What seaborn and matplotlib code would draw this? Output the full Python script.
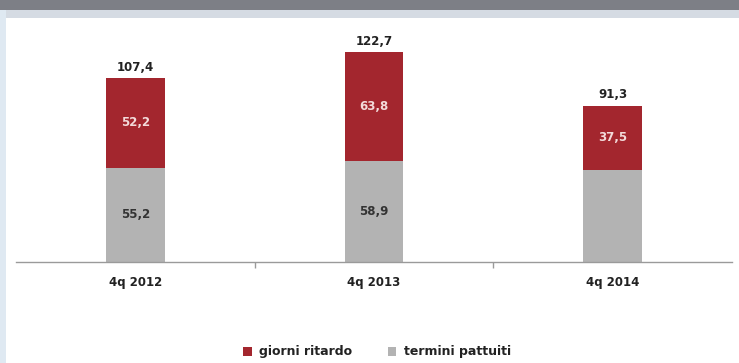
import matplotlib
matplotlib.use("Agg")
import matplotlib.pyplot as plt
import seaborn as sns
import pandas as pd
import numpy as np
from matplotlib.patches import Rectangle, Patch

categories = ["4q 2012", "4q 2013", "4q 2014"]
termini_pattuiti = [55.2, 58.9, 53.8]
giorni_ritardo = [52.2, 63.8, 37.5]
totals = [107.4, 122.7, 91.3]
termini_labels = ["55,2", "58,9", ""]
ritardo_labels = ["52,2", "63,8", "37,5"]
total_labels = ["107,4", "122,7", "91,3"]

RED = "#A3262E"
GRAY = "#B3B3B3"

sns.set_theme(style="white")
plt.rcParams["font.family"] = ["DejaVu Sans"]

fig = plt.figure(figsize=(7.39, 3.63), dpi=100)
fig.patch.set_facecolor("white")

# top dark band and frame
fig.patches.append(Rectangle((0, 1 - 10 / 363), 1, 10 / 363, transform=fig.transFigure,
                             facecolor="#7d7f86", edgecolor="none", zorder=0))
fig.patches.append(Rectangle((0, 1 - 18 / 363), 1, 8 / 363, transform=fig.transFigure,
                             facecolor="#d5dbe3", edgecolor="none", zorder=0))
fig.patches.append(Rectangle((0, 0), 6 / 739, 1 - 10 / 363, transform=fig.transFigure,
                             facecolor="#dfe9f2", edgecolor="none", zorder=0))

ax = fig.add_axes([16 / 739, 101 / 363, 716 / 739, 231 / 363])
ax.set_facecolor("none")

df = pd.DataFrame({"cat": categories, "tot": totals, "termini": termini_pattuiti})
sns.barplot(data=df, x="cat", y="tot", color=RED, saturation=1, width=0.245, ax=ax,
            edgecolor="none")
sns.barplot(data=df, x="cat", y="termini", color=GRAY, saturation=1, width=0.245, ax=ax,
            edgecolor="none")

FS = 8.5
for i in range(len(categories)):
    ax.text(i, totals[i] + 2.5, total_labels[i], ha="center", va="bottom",
            fontsize=FS, fontweight="bold", color="#222222")
    ax.text(i, termini_pattuiti[i] + giorni_ritardo[i] / 2, ritardo_labels[i],
            ha="center", va="center", fontsize=FS, fontweight="bold", color="#f3dada")
    if termini_labels[i]:
        ax.text(i, termini_pattuiti[i] / 2, termini_labels[i], ha="center", va="center",
                fontsize=FS, fontweight="bold", color="#333333")

ax.set_xlim(-0.5, 2.5)
ax.set_ylim(0, 135)
ax.set_xlabel("")
ax.set_ylabel("")
ax.set_yticks([])
for s in ["top", "right", "left"]:
    ax.spines[s].set_visible(False)
ax.spines["bottom"].set_color("#9a9a9a")
ax.spines["bottom"].set_linewidth(1.0)
ax.set_xticks(range(len(categories)))
ax.set_xticklabels(categories, fontsize=FS, fontweight="bold", color="#222222")
ax.tick_params(axis="x", which="major", length=0, pad=10)
ax.set_xticks([0.5, 1.5], minor=True)
ax.tick_params(axis="x", which="minor", bottom=True, length=4, width=1,
               color="#9a9a9a", direction="out")

handles = [Patch(facecolor=RED, edgecolor="none", label="giorni ritardo"),
           Patch(facecolor=GRAY, edgecolor="none", label="termini pattuiti")]
leg = fig.legend(handles=handles, loc="center", bbox_to_anchor=(377 / 739, 11 / 363), ncol=2,
                 frameon=False, handlelength=0.7, handleheight=0.7, columnspacing=2.8,
                 handletextpad=0.6, prop={"size": 9, "weight": "bold"})
for t in leg.get_texts():
    t.set_color("#222222")

fig.savefig("out.png", dpi=100, facecolor="white")
